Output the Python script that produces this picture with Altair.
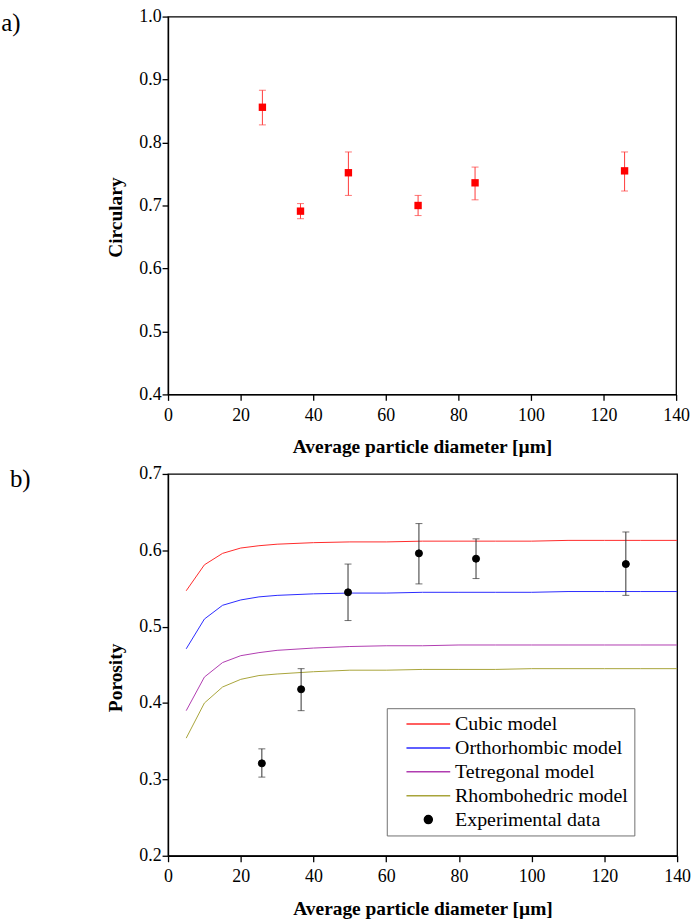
import altair as alt
import pandas as pd

FONT = "Liberation Serif"

# ---------------- panel a: circularity ----------------
circ_d = [26.0, 36.5, 49.7, 68.9, 84.6, 125.8]
circ_val = [0.856, 0.691, 0.752, 0.700, 0.736, 0.755]
circ_lo = [0.828, 0.679, 0.716, 0.684, 0.709, 0.723]
circ_hi = [0.883, 0.703, 0.785, 0.716, 0.761, 0.785]

# ---------------- panel b: porosity ----------------
model_d = [5, 10, 15, 20, 25, 30, 40, 50, 60, 70, 80, 90, 100, 110, 120, 130, 140]
cubic = [0.547, 0.581, 0.596, 0.603, 0.606, 0.608, 0.610, 0.611, 0.611, 0.612, 0.612, 0.612, 0.612, 0.613, 0.613, 0.613, 0.613]
ortho = [0.471, 0.510, 0.528, 0.535, 0.539, 0.541, 0.543, 0.544, 0.544, 0.545, 0.545, 0.545, 0.545, 0.546, 0.546, 0.546, 0.546]
tetra = [0.390, 0.434, 0.453, 0.462, 0.466, 0.469, 0.472, 0.474, 0.475, 0.475, 0.476, 0.476, 0.476, 0.476, 0.476, 0.476, 0.476]
rhombo = [0.354, 0.400, 0.421, 0.431, 0.436, 0.438, 0.441, 0.443, 0.443, 0.444, 0.444, 0.444, 0.445, 0.445, 0.445, 0.445, 0.445]

exp_d = [25.8, 36.6, 49.5, 69.0, 84.7, 125.9]
exp_por = [0.321, 0.418, 0.545, 0.596, 0.589, 0.582]
exp_lo = [0.303, 0.390, 0.508, 0.556, 0.563, 0.541]
exp_hi = [0.340, 0.445, 0.582, 0.635, 0.615, 0.624]

series_names = ["Cubic model", "Orthorhombic model", "Tetregonal model",
                "Rhombohedric model", "Experimental data"]
series_colors = ["#ff2a2a", "#2a2aff", "#b03cb0", "#a8a43a", "#000000"]
LINE_SYM = "M-5.5,0L5.5,0"
series_shapes = [LINE_SYM, LINE_SYM, LINE_SYM, LINE_SYM, "circle"]

x_ticks = [0, 10, 20, 30, 40, 50, 60, 70, 80, 90, 100, 110, 120, 130, 140]
ya_ticks = [0.4, 0.45, 0.5, 0.55, 0.6, 0.65, 0.7, 0.75, 0.8, 0.85, 0.9, 0.95, 1.0]
yb_ticks = [0.2, 0.25, 0.3, 0.35, 0.4, 0.45, 0.5, 0.55, 0.6, 0.65, 0.7]

df_a = pd.DataFrame({"d": circ_d, "v": circ_val, "lo": circ_lo, "hi": circ_hi})
df_exp = pd.DataFrame({"d": exp_d, "v": exp_por, "lo": exp_lo, "hi": exp_hi,
                       "series": ["Experimental data"] * len(exp_d)})
rows = []
for name, vals in zip(series_names[:4], [cubic, ortho, tetra, rhombo]):
    for d, v in zip(model_d, vals):
        rows.append({"d": d, "v": v, "series": name})
df_models = pd.DataFrame(rows)

MAJOR_X = "datum.value % 20 === 0"
MAJOR_Y = "abs(datum.value * 10 - round(datum.value * 10)) < 0.001"


def x_axis():
    return alt.Axis(
        title="Average particle diameter [µm]", values=x_ticks, format="d",
        labelExpr=f"{MAJOR_X} ? datum.label : ''",
        tickSize={"condition": {"test": MAJOR_X, "value": 6}, "value": 3.5},
        labelPadding=6, labelOverlap=False, labelFlush=False,
        titleY=52.7, titleBaseline="middle",
    )


def y_axis(title, values, title_x, title_y):
    return alt.Axis(
        title=title, values=values, format=".1f",
        labelExpr=f"{MAJOR_Y} ? datum.label : ''",
        tickSize={"condition": {"test": MAJOR_Y, "value": 6}, "value": 3.5},
        labelPadding=1, labelOverlap=False,
        titleX=title_x, titleY=title_y, titleBaseline="middle",
    )


xs = alt.Scale(domain=[0, 140], nice=False, zero=False)
ya = alt.Scale(domain=[0.4, 1.0], nice=False, zero=False)
yb = alt.Scale(domain=[0.2, 0.7], nice=False, zero=False)

# ----- panel a -----
base_a = alt.Chart(df_a)
err_a = base_a.mark_rule(color="#ff3a3a", strokeWidth=1).encode(
    x=alt.X("d:Q", scale=xs, axis=x_axis()),
    y=alt.Y("lo:Q", scale=ya, axis=y_axis("Circulary", ya_ticks, -52.7, 201.7)),
    y2="hi:Q",
)
cap_lo_a = base_a.mark_tick(color="#ff3a3a", orient="horizontal", size=7, thickness=1).encode(
    x="d:Q", y="lo:Q")
cap_hi_a = base_a.mark_tick(color="#ff3a3a", orient="horizontal", size=7, thickness=1).encode(
    x="d:Q", y="hi:Q")
pts_a = base_a.mark_square(color="#ff0000", size=55, opacity=1).encode(x="d:Q", y="v:Q")
lab_a = alt.Chart(pd.DataFrame({"t": ["a)"]})).mark_text(
    font=FONT, fontSize=25, align="left", baseline="middle", color="black", dx=3
).encode(text="t:N", x=alt.value(-170.7), y=alt.value(6.7))

panel_a = alt.layer(err_a, cap_lo_a, cap_hi_a, pts_a, lab_a).properties(width=511, height=380)

# ----- panel b -----
leg = alt.Legend(
    title=None, orient="none", legendX=220.0, legendY=235.6,
    strokeColor="#707070", fillColor="white", padding=6,
    labelFont=FONT, labelFontSize=20, labelColor="black", labelLimit=400,
    labelExpr="datum.label + '\u00a0\u00a0'",
    symbolSize=64, symbolOffset=25.8, labelOffset=16.9, rowPadding=4,
)
color_scale = alt.Scale(domain=series_names, range=series_colors)
shape_scale = alt.Scale(domain=series_names, range=series_shapes)

lines_b = alt.Chart(df_models).mark_line(strokeWidth=1).encode(
    x=alt.X("d:Q", scale=xs, axis=x_axis()),
    y=alt.Y("v:Q", scale=yb, axis=y_axis("Porosity", yb_ticks, -53.1, 204.6)),
    color=alt.Color("series:N", scale=color_scale, legend=leg),
    order="d:Q",
)
base_b = alt.Chart(df_exp)
err_b = base_b.mark_rule(color="#333333", strokeWidth=1).encode(x="d:Q", y="lo:Q", y2="hi:Q")
cap_lo_b = base_b.mark_tick(color="#333333", orient="horizontal", size=7, thickness=1).encode(
    x="d:Q", y="lo:Q")
cap_hi_b = base_b.mark_tick(color="#333333", orient="horizontal", size=7, thickness=1).encode(
    x="d:Q", y="hi:Q")
pts_b = base_b.mark_point(filled=False, fill="black", size=50, strokeWidth=1, opacity=1).encode(
    x="d:Q", y="v:Q",
    color=alt.Color("series:N", scale=color_scale, legend=leg),
    shape=alt.Shape("series:N", scale=shape_scale, legend=leg),
)
lab_b = alt.Chart(pd.DataFrame({"t": ["b)"]})).mark_text(
    font=FONT, fontSize=25, align="left", baseline="middle", color="black"
).encode(text="t:N", x=alt.value(-159.0), y=alt.value(5.3))

panel_b = alt.layer(lines_b, err_b, cap_lo_b, cap_hi_b, pts_b, lab_b).properties(width=512, height=384)

chart = alt.concat(panel_a, panel_b, columns=1, spacing=7, align="none").resolve_legend(
    color="independent", shape="independent"
).resolve_scale(
    color="independent", shape="independent"
).properties(
    padding={"left": 0, "top": 4, "right": 4, "bottom": 8},
    background="white",
).configure_view(
    stroke="black", strokeWidth=1.3
).configure_axis(
    grid=False, domainColor="black", domainWidth=1.3, tickColor="black", tickWidth=1.3,
    labelFont=FONT, labelFontSize=18, labelColor="black",
    titleFont=FONT, titleFontSize=19.5, titleFontWeight="bold", titleColor="black",
)

chart.save("out.html", embed_options={"renderer": "svg", "actions": False})
